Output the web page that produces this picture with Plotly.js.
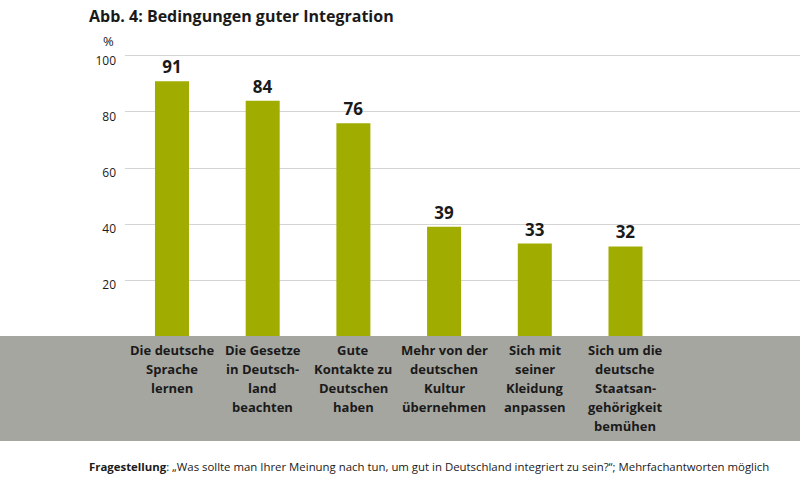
<!DOCTYPE html>
<html>
<head>
<meta charset="utf-8">
<script src="https://cdn.plot.ly/plotly-3.0.1.min.js"></script>
<style>html,body{margin:0;padding:0;background:#fff;}#chart{width:800px;height:485px;}</style>
</head>
<body>
<div id="chart"></div>
<script>
const categories = [
  "Die deutsche<br>Sprache<br>lernen",
  "Die Gesetze<br>in Deutsch-<br>land<br>beachten",
  "Gute<br>Kontakte zu<br>Deutschen<br>haben",
  "Mehr von der<br>deutschen<br>Kultur<br>übernehmen",
  "Sich mit<br>seiner<br>Kleidung<br>anpassen",
  "Sich um die<br>deutsche<br>Staatsan-<br>gehörigkeit<br>bemühen"
];
const values = [91, 84, 76, 39, 33, 32];
const yTicks = [20, 40, 60, 80, 100];
const titleText = "Abb. 4: Bedingungen guter Integration";
const footerText = "<b>Fragestellung</b>: „Was sollte man Ihrer Meinung nach tun, um gut in Deutschland integriert zu sein?“; Mehrfachantworten möglich";

const FONT = "Open Sans, sans-serif";
const idx = categories.map((_, i) => i);
const PLOT_H = 286;

const trace = {
  type: "bar",
  x: idx,
  y: values,
  width: 0.375,
  marker: {color: "#a0ad00", line: {width: 0}},
  text: values.map(v => "<b>" + v + "</b>"),
  textposition: "outside",
  textfont: {family: FONT, size: 17, color: "#1a1a1a"},
  cliponaxis: false,
  hoverinfo: "skip"
};

// category labels: one annotation per line for exact line spacing
const catAnnotations = [];
categories.forEach((c, i) => {
  c.split("<br>").forEach((line, j) => {
    catAnnotations.push({
      text: "<b>" + line + "</b>", xref: "x", yref: "paper", x: i, xanchor: "center",
      y: -(14 + 19 * j) / PLOT_H, yanchor: "middle", showarrow: false,
      font: {family: FONT, size: 13, color: "#1a1a1a"}
    });
  });
});

const layout = {
  width: 800, height: 485,
  margin: {l: 125, r: 0, t: 50, b: 149},
  paper_bgcolor: "#ffffff",
  plot_bgcolor: "rgba(0,0,0,0)",
  showlegend: false,
  font: {family: FONT, color: "#1a1a1a"},
  title: {text: "<b>" + titleText + "</b>", x: 89/800, xanchor: "left", xref: "container", y: 1 - 16/485, yref: "container", yanchor: "middle",
          font: {family: FONT, size: 16, color: "#1a1a1a"}},
  xaxis: {
    range: [-0.518, 6.924],
    showticklabels: false,
    ticks: "", showgrid: false, zeroline: false, showline: false,
    fixedrange: true
  },
  yaxis: {
    range: [0, 102.14],
    tickmode: "array", tickvals: yTicks, ticktext: yTicks.map(String),
    tickfont: {family: FONT, size: 12, color: "#1a1a1a"},
    ticks: "", showgrid: true, gridcolor: "#d4d4d4", gridwidth: 1,
    zeroline: false, showline: false, ticklabelstandoff: 8, ticklabelshift: 5,
    fixedrange: true
  },
  shapes: [{
    type: "rect", xref: "paper", yref: "paper",
    x0: -125/675, x1: 1, y0: 0, y1: -105/PLOT_H,
    fillcolor: "#a6a6a1", line: {width: 0}, layer: "below"
  }],
  annotations: catAnnotations.concat([
    {text: "%", xref: "paper", yref: "paper", x: -9/675, xanchor: "right", y: 1 + 9/PLOT_H, yanchor: "middle",
     showarrow: false, font: {family: FONT, size: 13, color: "#1a1a1a"}},
    {text: footerText, xref: "paper", yref: "paper", x: -38/675, xanchor: "left", y: -(467-336)/PLOT_H, yanchor: "middle",
     showarrow: false, font: {family: FONT, size: 11.4, color: "#1a1a1a"}}
  ])
};

Plotly.newPlot("chart", [trace], layout, {displayModeBar: false, staticPlot: true});
</script>
</body>
</html>
